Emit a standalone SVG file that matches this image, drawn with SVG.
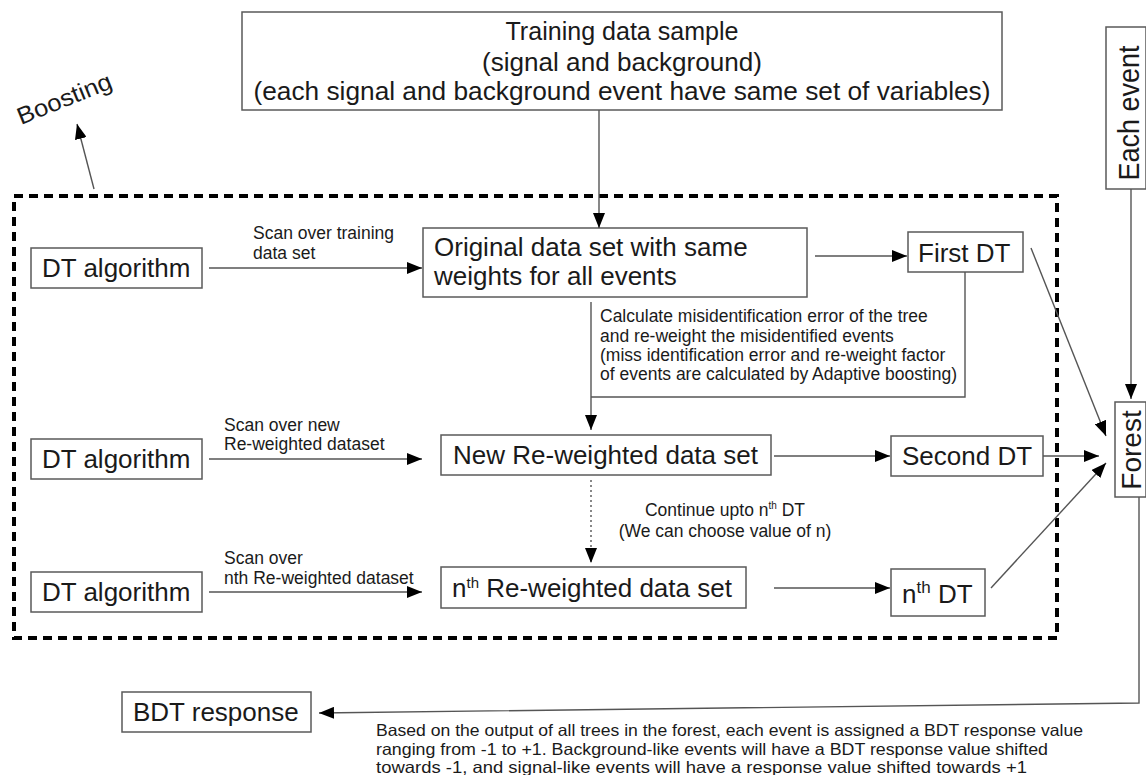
<svg xmlns="http://www.w3.org/2000/svg" width="1146" height="775" viewBox="0 0 1146 775">
<style>
.box{fill:#fff;stroke:#5a5a5a;stroke-width:1.5}
.ln{stroke:#555;stroke-width:1.4;fill:none}
.t{font-family:"Liberation Sans",Arial,sans-serif;fill:#1a1a1a}
.big{font-size:26px}
.sm{font-size:17.5px}
.xs{font-size:17.5px}
.note{font-size:16.5px}
</style>
<defs>
<marker id="ah" markerUnits="userSpaceOnUse" markerWidth="16" markerHeight="12" refX="15" refY="6" orient="auto">
<path d="M0,0 L15,6 L0,12 z" fill="#000"/>
</marker>
</defs>
<rect width="1146" height="775" fill="#fff"/>

<g id="boosting-frame">
<rect x="14" y="196" width="1043" height="442" fill="none" stroke="#000" stroke-width="4" stroke-dasharray="9 6"/>
</g>

<g id="training">
<rect class="box" x="242" y="12" width="760" height="98"/>
<text class="t big" x="622" y="40" text-anchor="middle" textLength="233" lengthAdjust="spacingAndGlyphs">Training data sample</text>
<text class="t big" x="622" y="71" text-anchor="middle" textLength="280" lengthAdjust="spacingAndGlyphs">(signal and background)</text>
<text class="t big" x="622" y="100" text-anchor="middle" textLength="737" lengthAdjust="spacingAndGlyphs">(each signal and background event have same set of variables)</text>
</g>

<g id="boosting-label">
<text class="t" font-size="24" textLength="100" lengthAdjust="spacingAndGlyphs" transform="translate(21,125) rotate(-22)">Boosting</text>
</g>

<g id="dt1"><rect class="box" x="31" y="248" width="171" height="40"/><text class="t big" x="42" y="277">DT algorithm</text></g>
<g id="dt2"><rect class="box" x="31" y="439" width="171" height="40"/><text class="t big" x="42" y="468">DT algorithm</text></g>
<g id="dt3"><rect class="box" x="31" y="572" width="171" height="40"/><text class="t big" x="42" y="601">DT algorithm</text></g>

<g id="original"><rect class="box" x="423" y="228" width="384" height="69"/>
<text class="t big" x="434" y="256">Original data set with same</text>
<text class="t big" x="434" y="285">weights for all events</text></g>

<g id="first-dt"><rect class="box" x="908" y="232" width="115" height="40"/><text class="t big" x="918" y="262">First DT</text></g>

<g id="new-rw"><rect class="box" x="441" y="435" width="330" height="40"/><text class="t big" x="453" y="464">New Re-weighted data set</text></g>
<g id="second-dt"><rect class="box" x="891" y="436" width="152" height="40"/><text class="t big" x="902" y="465">Second DT</text></g>

<g id="nth-rw"><rect class="box" x="441" y="567" width="305" height="41"/><text class="t big" x="452" y="597">n<tspan font-size="15" dy="-9">th</tspan><tspan dy="9"> Re-weighted data set</tspan></text></g>
<g id="nth-dt"><rect class="box" x="891" y="569" width="94" height="47"/><text class="t big" x="902" y="603">n<tspan font-size="17" dy="-10">th</tspan><tspan dy="10"> DT</tspan></text></g>

<g id="each-event"><rect class="box" x="1106" y="27" width="40" height="162"/><text class="t" font-size="30" text-anchor="middle" textLength="135" lengthAdjust="spacingAndGlyphs" transform="translate(1139,113) rotate(-90)">Each event</text></g>
<g id="forest"><rect class="box" x="1115" y="402" width="31" height="95"/><text class="t" font-size="28" text-anchor="middle" transform="translate(1141,450) rotate(-90)">Forest</text></g>

<g id="bdt"><rect class="box" x="122" y="692" width="189" height="40"/><text class="t big" x="133" y="721">BDT response</text></g>

<g id="labels">
<text class="t sm" x="253" y="239">Scan over training</text>
<text class="t sm" x="253" y="259">data set</text>
<text class="t sm" x="224" y="431">Scan over new</text>
<text class="t sm" x="224" y="450">Re-weighted dataset</text>
<text class="t sm" x="224" y="564">Scan over</text>
<text class="t sm" x="224" y="584">nth Re-weighted dataset</text>
<text class="t sm" x="600" y="322">Calculate misidentification error of the tree</text>
<text class="t sm" x="600" y="342">and re-weight the misidentified events</text>
<text class="t sm" x="600" y="361">(miss identification error and re-weight factor</text>
<text class="t sm" x="600" y="380">of events are calculated by Adaptive boosting)</text>
<text class="t xs" x="725" y="516" text-anchor="middle">Continue upto n<tspan font-size="10" dy="-7">th</tspan><tspan dy="7"> DT</tspan></text>
<text class="t xs" x="725" y="537" text-anchor="middle">(We can choose value of n)</text>
<text class="t note" x="376" y="736" textLength="707" lengthAdjust="spacingAndGlyphs">Based on the output of all trees in the forest, each event is assigned a BDT response value</text>
<text class="t note" x="376" y="755" textLength="672" lengthAdjust="spacingAndGlyphs">ranging from -1 to +1. Background-like events will have a BDT response value shifted</text>
<text class="t note" x="376" y="773" textLength="651" lengthAdjust="spacingAndGlyphs">towards -1, and signal-like events will have a response value shifted towards +1</text>
</g>

<g id="connectors">
<line class="ln" x1="599" y1="110" x2="599" y2="228" marker-end="url(#ah)"/>
<line class="ln" x1="94" y1="189" x2="77" y2="124" marker-end="url(#ah)"/>
<line class="ln" x1="209" y1="268" x2="422" y2="268" marker-end="url(#ah)"/>
<line class="ln" x1="209" y1="459" x2="422" y2="459" marker-end="url(#ah)"/>
<line class="ln" x1="209" y1="592" x2="422" y2="592" marker-end="url(#ah)"/>
<line class="ln" x1="815" y1="256" x2="907" y2="256" marker-end="url(#ah)"/>
<line class="ln" x1="591" y1="302" x2="591" y2="430" marker-end="url(#ah)"/>
<polyline class="ln" points="965,272 965,397 591,397"/>
<line class="ln" x1="591" y1="480" x2="591" y2="563" stroke-dasharray="2 3" marker-end="url(#ah)"/>
<line class="ln" x1="774" y1="456" x2="890" y2="456" marker-end="url(#ah)"/>
<line class="ln" x1="774" y1="588" x2="890" y2="588" marker-end="url(#ah)"/>
<line class="ln" x1="1031" y1="248" x2="1106" y2="436" marker-end="url(#ah)"/>
<line class="ln" x1="1043" y1="456" x2="1099" y2="456" marker-end="url(#ah)"/>
<line class="ln" x1="991" y1="588" x2="1106" y2="463" marker-end="url(#ah)"/>
<line class="ln" x1="1131" y1="189" x2="1131" y2="399" marker-end="url(#ah)"/>
<polyline class="ln" points="1139,497 1139,703 319,713" marker-end="url(#ah)"/>
</g>
</svg>
